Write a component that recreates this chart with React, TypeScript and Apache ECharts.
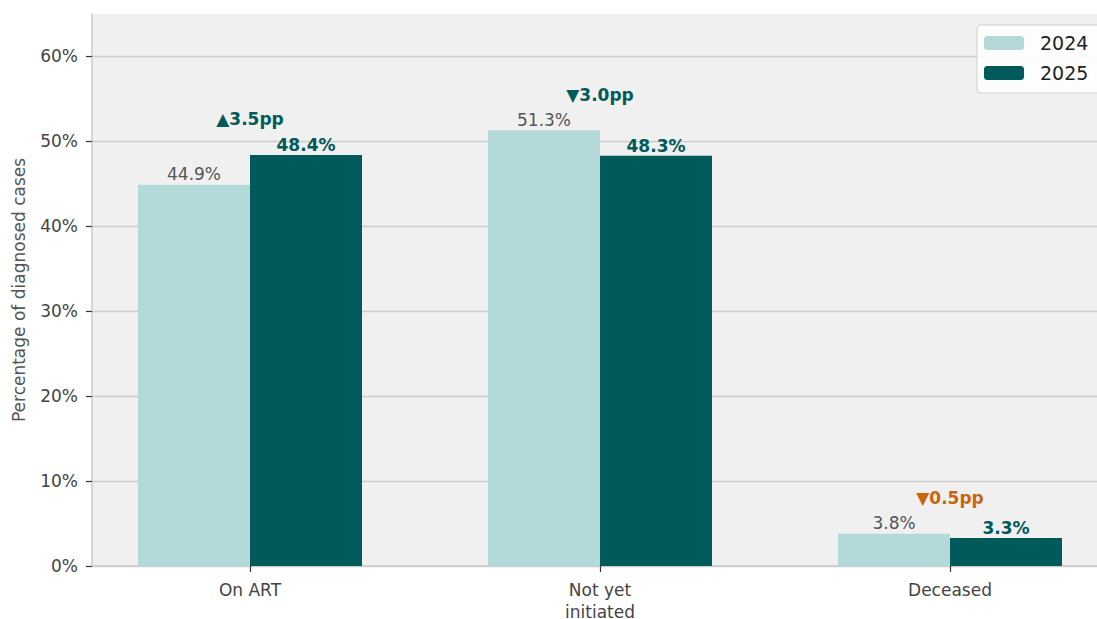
import React, { useEffect, useRef } from "react";
import * as echarts from "echarts";

const categories = ["On ART", "Not yet\ninitiated", "Deceased"];
const seriesNames = ["2024", "2025"];
const values2024 = [44.9, 51.3, 3.8];
const values2025 = [48.4, 48.3, 3.3];
const annotationColors = ["#005b5b", "#005b5b", "#c8660f"];
const yTickValues = [0, 10, 20, 30, 40, 50, 60];
const yMin = 0;
const yMax = 65;

const FONT = "DejaVu Sans";
const LIGHT = "#b3d9d8";
const DARK = "#005a5a";

export default function App() {
  const ref = useRef<HTMLDivElement>(null);

  useEffect(() => {
    document.body.style.margin = "0";
    if (!ref.current) return;
    const chart = echarts.init(ref.current, null, { renderer: "svg" });

    const annotations = categories.map((_, i) => {
      const d = values2025[i] - values2024[i];
      const arrow = d >= 0 ? "▲" : "▼";
      return {
        value: Math.max(values2024[i], values2025[i]) + 4.2,
        text: `${arrow}${Math.abs(d).toFixed(1)}pp`,
        color: annotationColors[i],
      };
    });

    chart.setOption({
      animation: false,
      textStyle: { fontFamily: FONT },
      grid: [
        {
          left: 92,
          width: 1016,
          top: 14,
          bottom: 53,
          show: true,
          backgroundColor: "#f0f0f0",
          borderWidth: 0,
          containLabel: false,
          outerBoundsMode: "none",
        },
        {
          left: 75,
          width: 1050,
          top: 14,
          bottom: 53,
          containLabel: false,
          outerBoundsMode: "none",
        },
      ],
      legend: {
        data: seriesNames,
        orient: "vertical",
        left: 977,
        top: 25,
        padding: [7, 14, 9, 7],
        itemWidth: 40,
        itemHeight: 14,
        itemGap: 8,
        backgroundColor: "rgba(255,255,255,0.85)",
        borderColor: "#cfcfcf",
        borderWidth: 1,
        borderRadius: 4,
        textStyle: {
          fontFamily: FONT,
          fontSize: 19,
          color: "#222",
          padding: [0, 0, 0, 11],
          lineHeight: 22,
        },
      },
      xAxis: [
        {
          type: "value",
          gridIndex: 0,
          min: 0,
          max: 1,
          axisLine: { show: true, lineStyle: { color: "#cccccc", width: 1.5 } },
          axisTick: { show: false },
          axisLabel: { show: false },
          splitLine: { show: false },
        },
        {
          type: "category",
          gridIndex: 1,
          data: categories,
          axisLine: { show: false },
          axisTick: {
            show: true,
            alignWithLabel: true,
            length: 6,
            lineStyle: { color: "#333", width: 1.2 },
          },
          axisLabel: {
            fontFamily: FONT,
            fontSize: 17,
            color: "#444",
            margin: 13,
            lineHeight: 22,
          },
        },
      ],
      yAxis: [
        {
          type: "value",
          gridIndex: 0,
          min: yMin,
          max: yMax,
          name: "Percentage of diagnosed cases",
          nameLocation: "middle",
          nameGap: 65,
          nameTextStyle: { fontFamily: FONT, fontSize: 17, color: "#555" },
          axisLine: { show: true, lineStyle: { color: "#cccccc", width: 1.5 } },
          axisTick: {
            show: true,
            customValues: yTickValues,
            length: 6,
            lineStyle: { color: "#333", width: 1.2 },
          },
          axisLabel: {
            fontFamily: FONT,
            fontSize: 17,
            color: "#444",
            margin: 14,
            customValues: yTickValues,
            formatter: "{value}%",
          },
          splitLine: { show: true, lineStyle: { color: "#cccccc", width: 1.3 } },
        },
        {
          type: "value",
          gridIndex: 1,
          min: yMin,
          max: yMax,
          show: false,
          splitLine: { show: false },
        },
      ],
      series: [
        {
          name: seriesNames[0],
          type: "bar",
          xAxisIndex: 1,
          yAxisIndex: 1,
          barWidth: 112,
          barGap: "0%",
          itemStyle: { color: LIGHT },
          data: values2024,
          label: {
            show: true,
            position: "top",
            distance: 2,
            formatter: (p: any) => `${p.value.toFixed(1)}%`,
            fontFamily: FONT,
            fontSize: 17,
            color: "#555",
          },
        },
        {
          name: seriesNames[1],
          type: "bar",
          xAxisIndex: 1,
          yAxisIndex: 1,
          barWidth: 112,
          barGap: "0%",
          itemStyle: { color: DARK },
          data: values2025,
          label: {
            show: true,
            position: "top",
            distance: 1,
            formatter: (p: any) => `${p.value.toFixed(1)}%`,
            fontFamily: FONT,
            fontSize: 17,
            fontWeight: "bold",
            color: DARK,
          },
        },
        {
          name: "annotations",
          type: "scatter",
          xAxisIndex: 1,
          yAxisIndex: 1,
          symbolSize: 0,
          silent: true,
          itemStyle: { opacity: 1 },
          data: annotations.map((a) => ({
            value: a.value,
            itemStyle: { opacity: 1 },
            label: {
              show: true,
              position: "inside",
              formatter: a.text,
              color: a.color,
              opacity: 1,
              fontFamily: FONT,
              fontSize: 17,
              fontWeight: "bold",
            },
          })),
        },
      ],
    });

    return () => chart.dispose();
  }, []);

  return <div ref={ref} style={{ width: 1097, height: 619 }} />;
}
